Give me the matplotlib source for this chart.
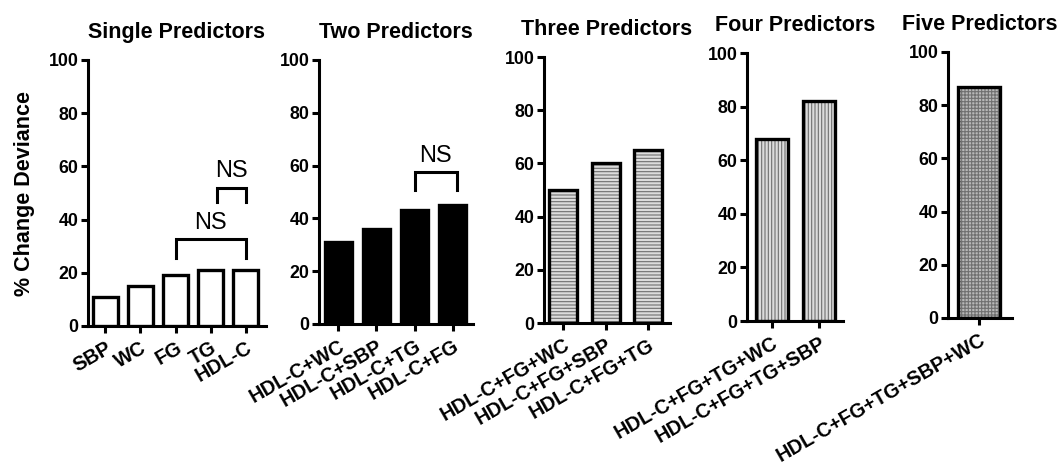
import numpy as np
import matplotlib.pyplot as plt

plt.rcParams['font.family'] = ['Liberation Sans', 'DejaVu Sans']
plt.rcParams['hatch.linewidth'] = 0.8

single_labels = ["SBP", "WC", "FG", "TG", "HDL-C"]
single_vals = [11, 15, 19, 21, 21]
two_labels = ["HDL-C+WC", "HDL-C+SBP", "HDL-C+TG", "HDL-C+FG"]
two_vals = [31, 36, 43, 45]
three_labels = ["HDL-C+FG+WC", "HDL-C+FG+SBP", "HDL-C+FG+TG"]
three_vals = [50, 60, 65]
four_labels = ["HDL-C+FG+TG+WC", "HDL-C+FG+TG+SBP"]
four_vals = [68, 82]
five_labels = ["HDL-C+FG+TG+SBP+WC"]
five_vals = [87]

W, H = 1060, 471
fig = plt.figure(figsize=(W / 100, H / 100), dpi=100)

def px_axes(left, right, bottom, top):
    return fig.add_axes([left / W, (H - bottom) / H, (right - left) / W, (bottom - top) / H])

# (pixel box, xlim, bar width, labels, values, fill, hatch, title)
panels = [
    ((88, 266, 326, 60), (-0.49, 4.57), 0.71, single_labels, single_vals, "white", None, "Single Predictors"),
    ((319, 473, 324, 60), (-0.5, 3.53), 0.71, two_labels, two_vals, "black", None, "Two Predictors"),
    ((544, 670, 323, 57), (-0.45, 2.52), 0.66, three_labels, three_vals, "#dcdcdc", "-----", "Three Predictors"),
    ((747, 843, 321, 53), (-0.53, 1.51), 0.68, four_labels, four_vals, "#dcdcdc", "|||||", "Four Predictors"),
    ((948, 1012, 318, 52), (-0.49, 0.52), 0.66, five_labels, five_vals, "#b8b8b8", "+++++", "Five Predictors"),
]

axes = []
for box, xlim, bw, labels, vals, fc, hatch, title in panels:
    ax = px_axes(*box)
    x = np.arange(len(vals))
    if hatch:
        ax.bar(x, vals, width=bw, color=fc, edgecolor="#707070", hatch=hatch, linewidth=0, zorder=2)
        ax.bar(x, vals, width=bw, fill=False, edgecolor="black", linewidth=2.4, zorder=3)
    else:
        ax.bar(x, vals, width=bw, color=fc, edgecolor="black", linewidth=2.4, zorder=3)
    ax.set_xlim(*xlim)
    ax.set_ylim(0, 100)
    ax.set_yticks([0, 20, 40, 60, 80, 100])
    ax.set_xticks(x)
    ax.set_xticklabels(labels, rotation=30, ha="right", rotation_mode="anchor",
                       fontsize=14.3, fontweight="bold")
    for t in ax.get_yticklabels():
        t.set_fontsize(12.8)
        t.set_fontweight("bold")
    ax.spines["top"].set_visible(False)
    ax.spines["right"].set_visible(False)
    ax.spines["left"].set_linewidth(2.2)
    ax.spines["bottom"].set_linewidth(2.2)
    ax.tick_params(axis="both", width=2.2, length=5, pad=2)
    ax.tick_params(axis="x", pad=4)
    ax.set_title(title, fontsize=15.5, fontweight="bold", pad=16)
    axes.append(ax)

axes[0].set_ylabel("% Change Deviance", fontsize=15.5, fontweight="bold", labelpad=10)

def bracket(ax, x1, x2, y, drop, label, ty):
    ax.plot([x1, x1, x2, x2], [y - drop, y, y, y - drop], color="black", lw=2.2,
            solid_joinstyle="miter", clip_on=False, zorder=4)
    ax.text((x1 + x2) / 2, ty, label, ha="center", va="bottom", fontsize=17)

bracket(axes[0], 2, 4, 32.7, 7, "NS", 34.5)
bracket(axes[0], 3.17, 4, 52, 5.5, "NS", 54)
bracket(axes[1], 2, 3.1, 57.6, 6.8, "NS", 59.5)

fig.savefig("out.png", dpi=100)
